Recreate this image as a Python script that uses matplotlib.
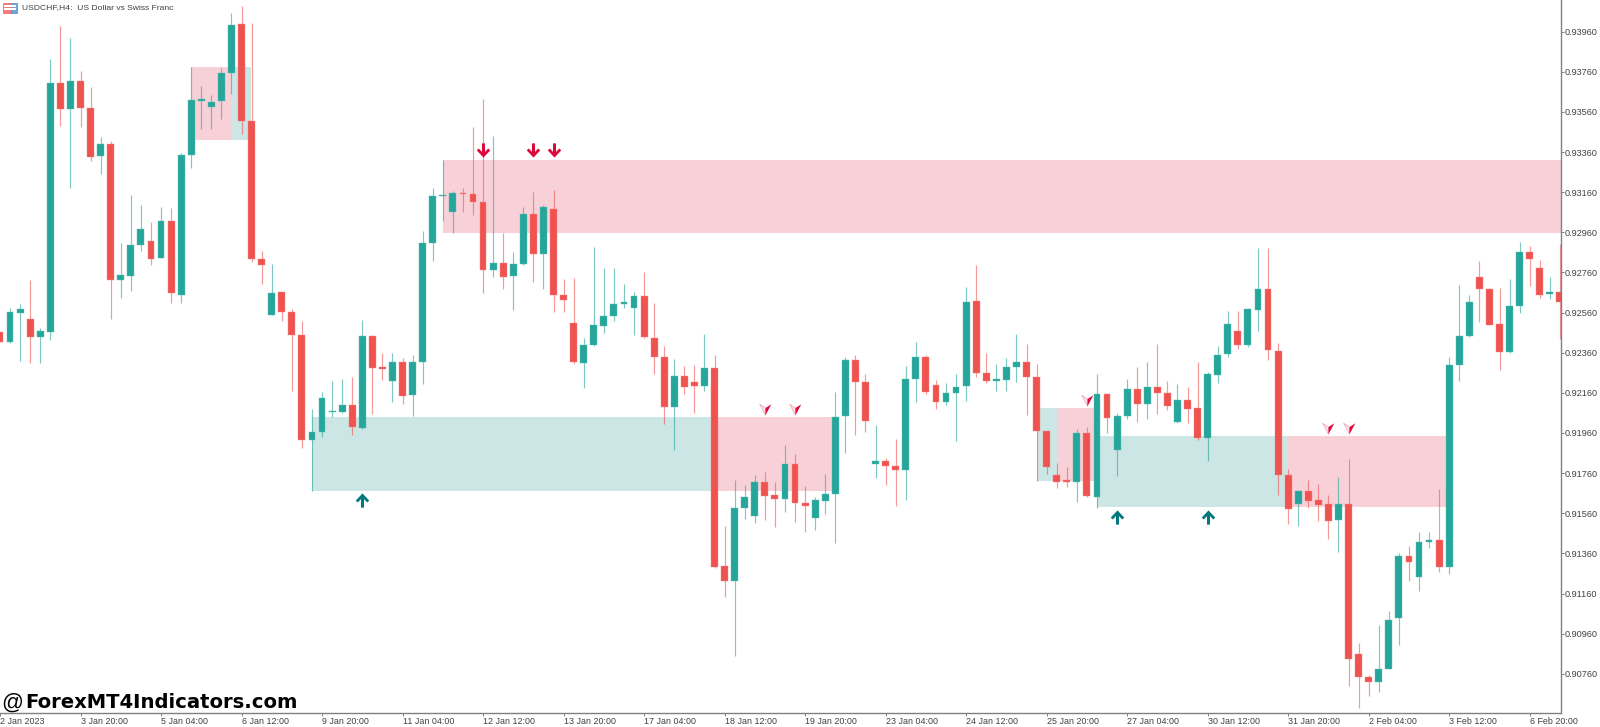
import numpy as np
import matplotlib
matplotlib.use("Agg")
import matplotlib.pyplot as plt
from matplotlib.patches import Rectangle
from matplotlib.path import Path

# USDCHF H4 candles, prices in 1e-5 units
opens = [92464,92414,92560,92528,92440,92465,93706,93573,93714,93578,93341,93399,92721,92744,92897,92919,92832,93015,92650,93347,
93616,93585,93613,93756,94000,93513,92826,92547,92661,92563,92450,91925,91964,92063,92067,92098,91987,92444,92288,92221,
92312,92148,92313,92907,93141,93063,93155,93152,93110,92770,92809,92744,92804,93049,92853,93074,92648,92509,92311,92398,
92494,92543,92603,92583,92641,92432,92338,92088,92242,92213,92193,92282,91296,91223,91587,91548,91716,91650,91630,91807,
91613,91538,91623,91656,92045,92324,92216,91806,91819,91794,91778,92229,92337,92198,92116,92158,92194,92616,92258,92219,
92226,92289,92312,92239,91969,91751,91724,91717,91958,91639,92152,91875,92044,92179,92104,92189,92161,92013,92122,92083,
91935,92250,92353,92468,92398,92573,92676,92367,91752,91607,91671,91624,91604,91526,91604,90858,90742,90717,90785,91036,
91345,91244,91416,91426,91294,92297,92443,92739,92676,92503,92363,92592,92860,92782,92651,92662]
highs = [92464,92582,92603,92723,92485,93824,93988,93927,93764,93683,93437,93414,92909,93146,93096,93010,93085,93080,93354,93784,
93689,93645,93781,94055,94088,94002,92867,92802,92663,92580,92520,92078,92165,92219,92229,92241,92523,92446,92361,92361,
92336,92351,92965,93181,93320,93165,93179,93487,93625,93442,92956,92860,93087,93163,93096,93170,92728,92731,92431,92885,
92780,92782,92702,92661,92762,92610,92393,92327,92293,92297,92452,92349,91497,91726,91700,91751,91764,91716,91899,91854,
91698,91640,91758,92165,92339,92349,92256,91998,91834,91929,92296,92412,92347,92224,92208,92253,92689,92799,92359,92302,
92334,92454,92404,92306,91971,91809,91789,91978,91991,92255,92157,92058,92230,92290,92315,92403,92220,92204,92187,92312,
92264,92393,92568,92568,92581,92883,92883,92408,91780,91674,91725,91705,91649,91742,91832,90912,90754,91003,91073,91360,
91397,91465,91468,91682,92340,92697,92646,92817,92685,92682,92727,92911,92893,92823,92737,92901]
lows = [92414,92410,92321,92311,92308,92424,93490,93180,93483,93317,93249,92530,92635,92670,92867,92798,92832,92610,92610,93283,
93475,93477,93525,93650,93450,92812,92703,92547,92520,92170,91884,91673,91942,92042,92058,91952,91980,92055,92224,92113,
92103,92047,92204,92818,93018,92956,93063,93047,92657,92739,92679,92574,92795,92712,92677,92561,92565,92306,92186,92396,
92460,92518,92581,92449,92432,92255,92005,91874,92155,92059,92168,91287,91145,90851,91532,91513,91527,91492,91567,91518,
91467,91477,91557,91414,91862,91952,91967,91738,91701,91598,91626,92115,92156,92082,92100,91922,92121,92241,92208,92171,
92171,92216,92050,91723,91758,91688,91693,91616,91642,91588,91961,91745,92031,92013,92031,92056,92074,92011,92009,91925,
91822,92207,92337,92380,92391,92470,92323,91649,91506,91496,91586,91523,91431,91368,90699,90588,90651,90669,90783,90905,
91220,91172,91388,91265,91259,92219,92436,92511,92496,92272,92361,92559,92694,92634,92627,92426]
closes = [92414,92563,92580,92440,92467,93706,93573,93716,93578,93337,93399,92723,92746,92896,92979,92829,93018,92660,93347,93618,
93625,93611,93756,93993,93513,92826,92798,92656,92565,92450,91925,91964,92136,92072,92098,91992,92444,92286,92278,92312,
92146,92315,92907,93143,93146,93155,93150,93110,92770,92808,92737,92804,93049,92853,93087,92646,92621,92313,92398,92496,
92543,92603,92612,92641,92436,92338,92090,92242,92190,92193,92282,91291,91223,91587,91641,91716,91648,91630,91804,91611,
91598,91625,91656,92042,92324,92216,92020,91821,91796,91778,92228,92337,92166,92116,92161,92189,92611,92261,92219,92228,
92289,92312,92241,91969,91793,91714,91718,91958,91644,92154,92034,92044,92179,92104,92189,92161,92097,92122,92079,91936,
92252,92348,92503,92398,92576,92676,92375,91752,91583,91669,91622,91601,91523,91604,90835,90742,90717,90785,91028,91345,
91315,91416,91426,91290,92298,92443,92611,92676,92499,92363,92594,92860,92825,92649,92662,92614]

# zones: first bar, last bar, lower price, upper price
supply_zones = [(19, 23, 0.93422, 0.93784), (44, 160, 0.92956, 0.93320), (71, 83, 0.91673, 0.92042),
                (105, 109, 0.91723, 0.92083), (128, 143.8, 0.91589, 0.91945)]
demand_zones = [(23, 24.9, 0.93422, 0.93784), (31, 71, 0.91673, 0.92042),
                (103, 105, 0.91723, 0.92083), (109, 128, 0.91589, 0.91945)]

up_arrows = [(36, 0.91626), (111, 0.91541), (120, 0.91541)]
down_arrows = [(48, 0.93370), (53, 0.93370), (55, 0.93370)]
vee_arrows = [(76, 0.92079), (79, 0.92079), (108, 0.92124), (132, 0.91985), (134, 0.91985)]

y_tick_values = [0.90760, 0.90960, 0.91160, 0.91360, 0.91560, 0.91760, 0.91960, 0.92160, 0.92360,
                 0.92560, 0.92760, 0.92960, 0.93160, 0.93360, 0.93560, 0.93760, 0.93960]
x_tick_bars = [0, 8, 16, 24, 32, 40, 48, 56, 64, 72, 80, 88, 96, 104, 112, 120, 128, 136, 144, 152]
x_tick_labels = ["2 Jan 2023", "3 Jan 20:00", "5 Jan 04:00", "6 Jan 12:00", "9 Jan 20:00", "11 Jan 04:00",
                 "12 Jan 12:00", "13 Jan 20:00", "17 Jan 04:00", "18 Jan 12:00", "19 Jan 20:00", "23 Jan 04:00",
                 "24 Jan 12:00", "25 Jan 20:00", "27 Jan 04:00", "30 Jan 12:00", "31 Jan 20:00", "2 Feb 04:00",
                 "3 Feb 12:00", "6 Feb 20:00"]
title_text = "USDCHF,H4:  US Dollar vs Swiss Franc"

UP = "#26a69a"
DOWN = "#ef5350"
W, H = 1600, 727
AX_R, AX_B = 1561, 713.3

fig = plt.figure(figsize=(W / 100, H / 100), dpi=100, facecolor="white")
ax = fig.add_axes([0, 1 - AX_B / H, AX_R / W, AX_B / H])
ax.set_xlim(0.0993, 155.11)
ax.set_ylim(0.90563, 0.94118)

o, h, l, c = [np.array(a) / 1e5 for a in (opens, highs, lows, closes)]
idx = np.arange(len(o))
up = c >= o

for x0, x1, y0, y1 in supply_zones:
    ax.add_patch(Rectangle((x0, y0), x1 - x0, y1 - y0, fc="#f8d0d8", ec="none", zorder=1))
for x0, x1, y0, y1 in demand_zones:
    ax.add_patch(Rectangle((x0, y0), x1 - x0, y1 - y0, fc="#cce5e5", ec="none", zorder=1))

ax.vlines(idx[up], l[up], h[up], color=UP, lw=0.85, alpha=0.6, zorder=2)
ax.vlines(idx[~up], l[~up], h[~up], color=DOWN, lw=0.85, alpha=0.6, zorder=2)
ax.bar(idx[up], (c - o)[up], bottom=o[up], width=0.68, color=UP, edgecolor="#5cc0b5", lw=0.3, zorder=3)
ax.bar(idx[~up], (c - o)[~up], bottom=o[~up], width=0.68, color=DOWN, edgecolor="#f58a88", lw=0.3, zorder=3)

arrow_up = Path([(-0.21, -1), (0.21, -1), (0.21, 0.2), (0.66, -0.28), (0.95, -0.02), (0, 1),
                 (-0.95, -0.02), (-0.66, -0.28), (-0.21, 0.2), (-0.21, -1)], closed=True)
arrow_down = Path([(-0.21, 1), (0.21, 1), (0.21, -0.2), (0.66, 0.28), (0.95, 0.02), (0, -1),
                   (-0.95, 0.02), (-0.66, 0.28), (-0.21, -0.2), (-0.21, 1)], closed=True)
vee_left = Path([(-1, 0.9), (0.0, 0.25), (0.0, -1), (-1, 0.9)], closed=True)
vee_right = Path([(1, 0.9), (0.0, 0.25), (0.0, -1), (1, 0.9)], closed=True)

ux, uy = zip(*up_arrows)
dx, dy = zip(*down_arrows)
vx, vy = zip(*vee_arrows)
ax.scatter(ux, uy, marker=arrow_up, s=105, color="#00787f", lw=0, zorder=5)
ax.scatter(dx, dy, marker=arrow_down, s=105, color="#dc0a3c", lw=0, zorder=5)
ax.scatter(vx, vy, marker=vee_left, s=70, facecolor="#fde3e8", edgecolor="#f4a0b0", lw=0.5, zorder=5)
ax.scatter(vx, vy, marker=vee_right, s=70, color="#dc0a3c", lw=0, zorder=5)

for s in ("top", "left"):
    ax.spines[s].set_visible(False)
for s in ("right", "bottom"):
    ax.spines[s].set_color("#808080")
    ax.spines[s].set_linewidth(1.0)
    ax.spines[s].set_zorder(6)

FONT = "Liberation Sans"
ax.yaxis.tick_right()
ax.set_yticks(y_tick_values)
ax.set_yticklabels([f"{v:.5f}" for v in y_tick_values], fontsize=6.6, family=FONT, color="#404040")
ax.tick_params(axis="y", length=2.2, width=0.7, color="#808080", pad=0.5)
ax.set_xticks(x_tick_bars)
ax.set_xticklabels(x_tick_labels, fontsize=6.4, family=FONT, color="#404040", ha="left")
ax.tick_params(axis="x", length=2.2, width=0.7, color="#808080", pad=0.8)
fig.canvas.draw()
ax.get_xticklabels()[0].set_x(0.3)

def px(x, y):
    return x / W, 1 - y / H

fig.text(*px(22, 8), title_text, fontsize=6.1, family=FONT, color="#404040", va="center", ha="left")

# chart icon
fig.add_artist(Rectangle(px(3, 12.5), 7.5 / W, 9.5 / H, fc="#f47c7c", ec="#e06060", lw=0.5, transform=fig.transFigure))
fig.add_artist(Rectangle(px(10.5, 12.5), 6.5 / W, 9.5 / H, fc="#6fa8d8", ec="#4a88c0", lw=0.5, transform=fig.transFigure))
for yy in (5.9, 9.0):
    fig.add_artist(Rectangle(px(4, yy + 0.6), 12 / W, 1.2 / H, fc="white", ec="none", transform=fig.transFigure))

# watermark
fig.text(*px(1, 703), "@", fontsize=15.5, family=FONT, color="black", va="center", ha="left")
fig.text(*px(25, 703), "ForexMT4Indicators.com", fontsize=14.1, family="DejaVu Sans", weight="bold",
         color="black", va="center", ha="left")

fig.savefig("out.png", dpi=100, facecolor="white")
